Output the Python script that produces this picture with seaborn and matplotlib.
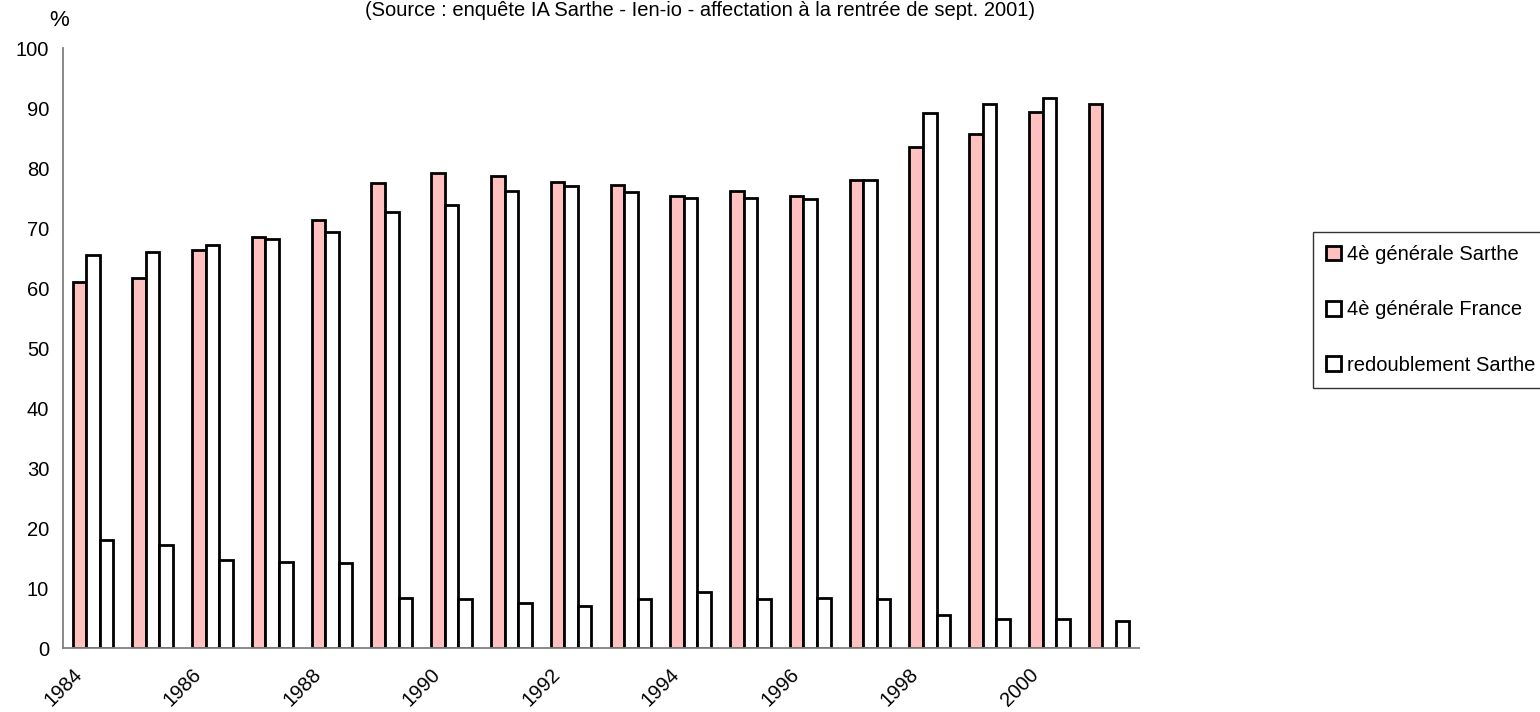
import numpy as np
import pandas as pd
import matplotlib
matplotlib.use('Agg')
import matplotlib.pyplot as plt
import matplotlib.transforms as mtransforms
import seaborn as sns

# Values
years = list(range(1984, 2002))
sarthe_4e = [61.0, 61.7, 66.4, 68.5, 71.3, 77.5, 79.1, 78.6, 77.7, 77.2,
             75.4, 76.2, 75.4, 78.0, 83.5, 85.7, 89.4, 90.7]
france_4e = [65.5, 66.0, 67.1, 68.1, 69.4, 72.6, 73.8, 76.2, 77.0, 76.0,
             75.0, 75.0, 74.9, 78.0, 89.1, 90.6, 91.7, np.nan]
redoublement = [18.0, 17.1, 14.6, 14.3, 14.1, 8.4, 8.2, 7.5, 7.0, 8.2,
                9.3, 8.2, 8.3, 8.2, 5.5, 4.8, 4.8, 4.5]
series_names = ['4è générale Sarthe', '4è générale France', 'redoublement Sarthe']
title_text = '(Source : enquête IA Sarthe - Ien-io - affectation à la rentrée de sept. 2001)'

df = pd.DataFrame({'annee': [str(y) for y in years],
                   series_names[0]: sarthe_4e,
                   series_names[1]: france_4e,
                   series_names[2]: redoublement})
df_long = df.melt(id_vars='annee', var_name='serie', value_name='pct')

sns.set_style('white')
plt.rcParams['font.family'] = ['Liberation Sans', 'DejaVu Sans']
plt.rcParams['text.color'] = 'black'
plt.rcParams['xtick.labelcolor'] = 'black'
plt.rcParams['ytick.labelcolor'] = 'black'

fig = plt.figure(figsize=(15.4, 7.12), dpi=100)
ax = fig.add_axes([63 / 1540, 1 - 648 / 712, (1139 - 63) / 1540, (648 - 48) / 712])

sns.barplot(data=df_long, x='annee', y='pct', hue='serie', hue_order=series_names,
            palette=['#FFC0C0', 'white', 'white'], saturation=1,
            edgecolor='black', linewidth=2.0,
            width=0.68, gap=0, errorbar=None, ax=ax)

ax.set_xlim(-0.5, len(years) - 0.5)
ax.set_ylim(0, 100)
ax.set_yticks(range(0, 101, 10))
ax.set_xlabel('')
ax.set_ylabel('')

# axes look: only left/bottom grey spines
for side in ['top', 'right']:
    ax.spines[side].set_visible(False)
for side in ['left', 'bottom']:
    ax.spines[side].set_color('#808080')
    ax.spines[side].set_linewidth(1.3)

# labels every other year, tick marks between categories
even_idx = [i for i, y in enumerate(years) if y % 2 == 0]
ax.set_xticks(even_idx)
ax.set_xticklabels([str(years[i]) for i in even_idx], rotation=45,
                   ha='right', va='center', rotation_mode='anchor')
ax.set_xticks(np.arange(-0.5, len(years), 1), minor=True)
ax.tick_params(axis='x', which='major', length=0, pad=17, labelsize=14.5)
ax.tick_params(axis='x', which='minor', length=12, width=1, color='#808080', direction='inout')
ax.tick_params(axis='y', which='major', length=6, width=1, color='#808080', labelsize=14.5, pad=4)
offset = mtransforms.ScaledTranslation(-14 / 100, 0, fig.dpi_scale_trans)
for lbl in ax.get_xticklabels():
    lbl.set_transform(lbl.get_transform() + offset)

handles, labels = ax.get_legend_handles_labels()
ax.legend(handles, labels, loc='upper left', bbox_to_anchor=(1313 / 1540, 1 - 232 / 712),
          bbox_transform=fig.transFigure, frameon=True, fancybox=False, edgecolor='black',
          fontsize=14.5, labelspacing=1.8, handlelength=0.75, handleheight=0.75,
          handletextpad=0.3, borderpad=0.65, borderaxespad=0)
ax.get_legend().get_frame().set_linewidth(1.0)

fig.text(59 / 1540, 1 - 20 / 712, '%', fontsize=16, ha='center', va='center')
fig.text(700 / 1540, 1 - 11 / 712, title_text, fontsize=14.5, ha='center', va='center')

fig.savefig('out.png', dpi=100)
